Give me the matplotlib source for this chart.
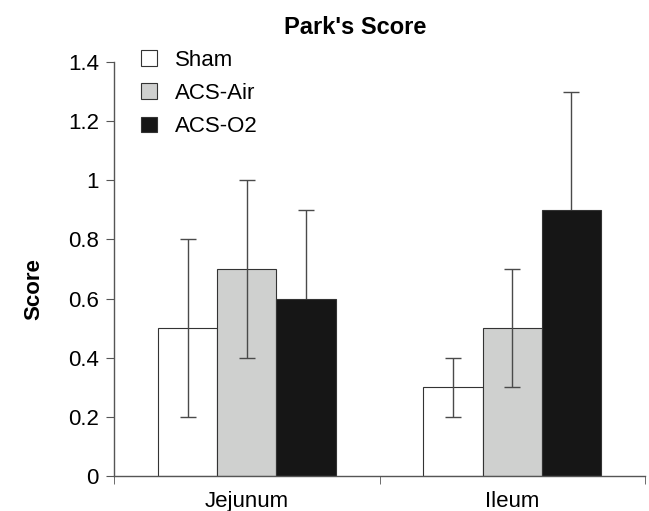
import matplotlib
matplotlib.use("Agg")
import matplotlib.pyplot as plt
from matplotlib.patches import Patch
import numpy as np

plt.rcParams["font.family"] = ["Liberation Sans", "DejaVu Sans"]

categories = ["Jejunum", "Ileum"]
series = ["Sham", "ACS-Air", "ACS-O2"]
means = {
    "Sham": [0.5, 0.3],
    "ACS-Air": [0.7, 0.5],
    "ACS-O2": [0.6, 0.9],
}
errors = {
    "Sham": [0.3, 0.1],
    "ACS-Air": [0.3, 0.2],
    "ACS-O2": [0.3, 0.4],
}
colors = {"Sham": "#ffffff", "ACS-Air": "#cfd0cf", "ACS-O2": "#161616"}
yticks = [0, 0.2, 0.4, 0.6, 0.8, 1.0, 1.2, 1.4]
ytick_labels = ["0", "0.2", "0.4", "0.6", "0.8", "1", "1.2", "1.4"]

fig = plt.figure(figsize=(6.49, 5.11), dpi=100)
ax = fig.add_axes([0.1757, 0.0685, 0.8181, 0.8102])

x = np.arange(len(categories))
width = 0.223
axis_grey = "#555555"
for i, name in enumerate(series):
    pos = x + (i - 1) * width
    ax.bar(pos, means[name], width, color=colors[name], edgecolor="#333333",
           linewidth=0.8, zorder=2)
    ax.errorbar(pos, means[name], yerr=errors[name], fmt="none",
                ecolor="#4a4a4a", elinewidth=1.0, capsize=6, capthick=1.0,
                zorder=1 if name == "ACS-O2" else 3)

ax.set_xlim(-0.5, 1.5)
ax.set_ylim(0, 1.4)
ax.set_yticks(yticks)
ax.set_yticklabels(ytick_labels, fontsize=16)
ax.set_xticks(x)
ax.set_xticklabels(categories, fontsize=16)
ax.tick_params(axis="x", which="major", length=0, pad=11)
ax.set_xticks([-0.5, 0.5, 1.5], minor=True)
ax.tick_params(axis="x", which="minor", length=6, direction="out", color=axis_grey)
ax.tick_params(axis="y", length=6, color=axis_grey, direction="out", pad=5)

for side in ["top", "right"]:
    ax.spines[side].set_visible(False)
for side in ["left", "bottom"]:
    ax.spines[side].set_color(axis_grey)
    ax.spines[side].set_linewidth(1.0)

ax.set_ylabel("Score", fontsize=16, fontweight="bold", labelpad=17, y=0.452)
ax.set_title("Park's Score", fontsize=17, fontweight="bold", pad=20, x=0.454)

handles = [Patch(facecolor=colors[n], edgecolor="#333333", linewidth=0.8) for n in series]
ax.legend(handles, series, loc="upper left", bbox_to_anchor=(0.014, 1.078),
          frameon=False, fontsize=16, handlelength=0.7, handleheight=0.7,
          handletextpad=0.8, labelspacing=0.55)

fig.savefig("out.png", dpi=100)
